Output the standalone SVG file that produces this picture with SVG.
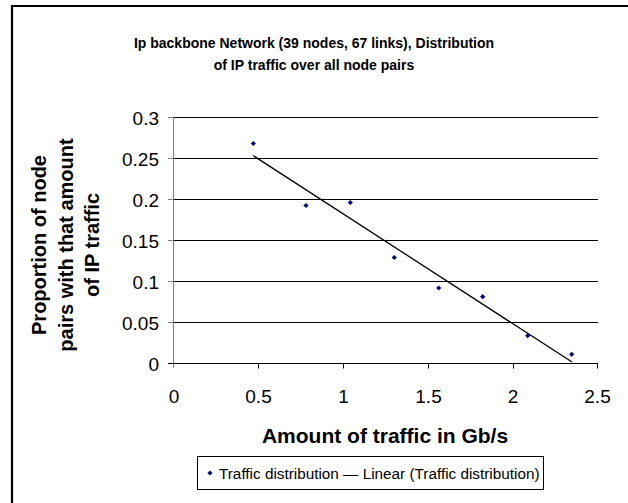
<svg xmlns="http://www.w3.org/2000/svg" width="628" height="503" viewBox="0 0 628 503">
<style>
text{font-family:"Liberation Sans",Arial,sans-serif;fill:#000}
.t{font-size:14px;font-weight:bold}
.ax{font-size:20px;font-weight:bold}
.xt{font-size:21px;font-weight:bold}
.tk{font-size:19px}
.lg{font-size:15.3px}
.grid{stroke:#000;stroke-width:1}
.pt{fill:#000080}
</style>
<defs>
<path id="dm" d="M0,-2.6 L2.6,0 L0,2.6 L-2.6,0 Z" class="pt"/>
</defs>
<rect width="628" height="503" fill="#fff"/>
<path d="M12,503 V6 H628" fill="none" stroke="#000" stroke-width="2.2"/>
<g id="title">
<text class="t" x="314" y="48" text-anchor="middle">Ip backbone Network (39 nodes, 67 links), Distribution</text>
<text class="t" x="314" y="70" text-anchor="middle">of IP traffic over all node pairs</text>
</g>
<g id="grid">
<line class="grid" x1="173.5" y1="117.5" x2="598" y2="117.5"/>
<line class="grid" x1="173.5" y1="158.5" x2="598" y2="158.5"/>
<line class="grid" x1="173.5" y1="199.5" x2="598" y2="199.5"/>
<line class="grid" x1="173.5" y1="240.5" x2="598" y2="240.5"/>
<line class="grid" x1="173.5" y1="281.5" x2="598" y2="281.5"/>
<line class="grid" x1="173.5" y1="322.5" x2="598" y2="322.5"/>
</g>
<g id="axes">
<line x1="173.5" y1="117" x2="173.5" y2="368" stroke="#808080" stroke-width="1"/>
<path d="M168,117.5H173.5M168,158.5H173.5M168,199.5H173.5M168,240.5H173.5M168,281.5H173.5M168,322.5H173.5" stroke="#808080"/>
<line x1="168" y1="363.5" x2="598" y2="363.5" stroke="#000"/>
<path d="M258.5,363.5V368.5M343.5,363.5V368.5M428.5,363.5V368.5M513.5,363.5V368.5M597.5,363.5V368.5" stroke="#000"/>
</g>
<g id="ylabels" text-anchor="end">
<text class="tk" x="159" y="124.5">0.3</text>
<text class="tk" x="159" y="165.5">0.25</text>
<text class="tk" x="159" y="206.5">0.2</text>
<text class="tk" x="159" y="247.5">0.15</text>
<text class="tk" x="159" y="288.5">0.1</text>
<text class="tk" x="159" y="329.5">0.05</text>
<text class="tk" x="159" y="370.5">0</text>
</g>
<g id="xlabels" text-anchor="middle">
<text class="tk" x="174" y="403">0</text>
<text class="tk" x="258.5" y="403">0.5</text>
<text class="tk" x="343.5" y="403">1</text>
<text class="tk" x="428.5" y="403">1.5</text>
<text class="tk" x="513" y="403">2</text>
<text class="tk" x="597.5" y="403">2.5</text>
</g>
<g id="ytitle" text-anchor="middle" transform="translate(0,245) rotate(-90)">
<text class="ax" x="0" y="46">Proportion of node</text>
<text class="ax" x="0" y="73">pairs with that amount</text>
<text class="ax" x="0" y="99">of IP traffic</text>
</g>
<text id="xtitle" class="xt" x="385" y="443" text-anchor="middle">Amount of traffic in Gb/s</text>
<g id="connectors">
<line id="trend" x1="253" y1="155.5" x2="572" y2="362" stroke="#000" stroke-width="1.3"/>
</g>
<g id="points">
<use href="#dm" x="253.3" y="143.5"/>
<use href="#dm" x="306" y="205.5"/>
<use href="#dm" x="350.3" y="202.5"/>
<use href="#dm" x="394.3" y="257.5"/>
<use href="#dm" x="438.7" y="288"/>
<use href="#dm" x="482.7" y="296.7"/>
<use href="#dm" x="527.7" y="335.7"/>
<use href="#dm" x="571.7" y="354.3"/>
</g>
<g id="legend">
<rect x="197.5" y="456.5" width="346" height="33" fill="#fff" stroke="#000" stroke-width="1"/>
<use href="#dm" x="210" y="473"/>
<text class="lg" x="219" y="478.5">Traffic distribution — Linear (Traffic distribution)</text>
</g>
</svg>
